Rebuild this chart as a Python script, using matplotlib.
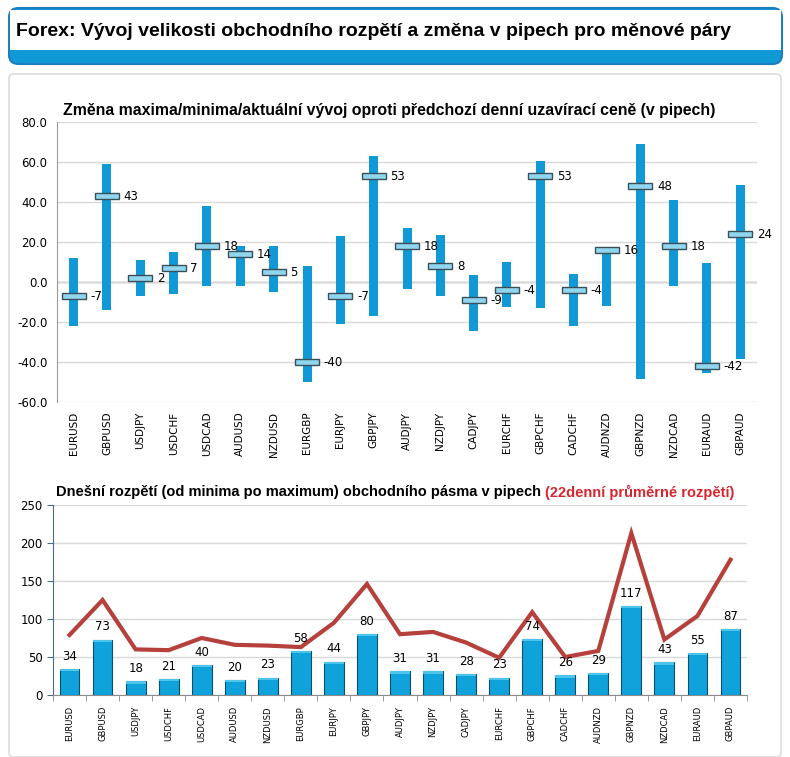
import matplotlib
matplotlib.use("Agg")
from matplotlib import pyplot as plt
from matplotlib.patches import FancyBboxPatch, Rectangle
import numpy as np

pairs = ["EURUSD", "GBPUSD", "USDJPY", "USDCHF", "USDCAD", "AUDUSD", "NZDUSD",
         "EURGBP", "EURJPY", "GBPJPY", "AUDJPY", "NZDJPY", "CADJPY", "EURCHF",
         "GBPCHF", "CADCHF", "AUDNZD", "GBPNZD", "NZDCAD", "EURAUD", "GBPAUD"]

# zmena oproti predchozi uzaviraci cene (pipy)
highs = [12, 59, 11, 15, 38, 18, 18, 8, 23, 63, 27, 23.5, 3.5, 10, 60.5, 4, 16, 69, 41, 9.5, 48.5]
lows = [-22, -14, -7, -6, -2, -2, -5, -50, -21, -17, -3.5, -7, -24.5, -12.5, -13, -22, -12, -48.5, -2, -45.5, -38.5]
current = [-7, 43, 2, 7, 18, 14, 5, -40, -7, 53, 18, 8, -9, -4, 53, -4, 16, 48, 18, -42, 24]

# dnesni rozpeti a 22denni prumer
ranges = [34, 73, 18, 21, 40, 20, 23, 58, 44, 80, 31, 31, 28, 23, 74, 26, 29, 117, 43, 55, 87]
avg22 = [79, 125, 60, 59, 75, 66, 65, 63, 95, 146, 80, 83, 69, 49, 109, 50, 58, 213, 73, 104, 178]

BLUE = "#1199d6"
W, H = 790, 757

fig = plt.figure(figsize=(7.9, 7.57), dpi=100)
fig.patch.set_facecolor("white")


def fx(px):
    return px / W


def fy(py):
    return 1 - py / H


# hlavicka a panel
panel = FancyBboxPatch((fx(9), fy(757)), fx(772), fy(74) - fy(757),
                       boxstyle="round,pad=0,rounding_size=0.006",
                       transform=fig.transFigure, facecolor="white",
                       edgecolor="#dcdcdc", lw=1.2, zorder=-5)
fig.patches.append(panel)
hdr = FancyBboxPatch((fx(9), fy(64)), fx(773), fy(8) - fy(64),
                     boxstyle="round,pad=0,rounding_size=0.012",
                     transform=fig.transFigure, facecolor=BLUE,
                     edgecolor="#1b7fc0", lw=1.5, zorder=-5)
fig.patches.append(hdr)
fig.patches.append(Rectangle((fx(10), fy(50)), fx(771), fy(10) - fy(50),
                             transform=fig.transFigure, facecolor="white",
                             edgecolor="none", zorder=-4))
fig.text(fx(16), fy(31), "Forex: Vývoj velikosti obchodního rozpětí a změna v pipech pro měnové páry",
         family="Liberation Sans", weight="bold",
         fontsize=14, va="center", ha="left")

x = np.arange(len(pairs))

# horni graf
ax1 = fig.add_axes([fx(57), fy(402), fx(700), fy(122) - fy(402)])
ax1.patch.set_alpha(0)
ax1.bar(x, np.array(highs) - np.array(lows), bottom=lows, width=0.27,
        color=BLUE, zorder=3)
ax1.bar(x, 2.6, bottom=np.array(current) - 1.3, width=0.72,
        color="#8fd6ee", edgecolor="#3a4f58", lw=1.0, zorder=4)
for xi, c in zip(x, current):
    ax1.text(xi + 0.5, c, f"{c}", fontsize=8.5, va="center", ha="left", zorder=5)
ax1.set_xlim(-0.5, len(pairs) - 0.5)
ax1.set_ylim(-60, 80)
ax1.set_yticks(np.arange(-60, 81, 20))
ax1.set_yticklabels([f"{v:.1f}" for v in np.arange(-60, 81, 20)], fontsize=8.5)
ax1.set_xticks(x)
ax1.set_xticklabels(pairs, rotation=90, fontsize=7.5)
ax1.tick_params(length=0, pad=7)
ax1.grid(axis="y", color="#d9d9d9", lw=1, zorder=0)
ax1.axhline(0, color="#8c8c8c", lw=1, zorder=1)
for s in ["top", "right", "bottom"]:
    ax1.spines[s].set_visible(False)
ax1.spines["left"].set_color("#9a9a9a")
fig.text(fx(389), fy(110), "Změna maxima/minima/aktuální vývoj oproti předchozí denní uzavírací ceně (v pipech)",
         family="Liberation Sans", weight="bold", fontsize=11.4, ha="center", va="center")

# dolni graf
ax2 = fig.add_axes([fx(53), fy(695), fx(694), fy(505) - fy(695)])
ax2.patch.set_alpha(0)
ax2.bar(x, ranges, width=0.6, color="#10a2da", edgecolor="#0a4f6c", lw=0.8, zorder=3)
ax2.bar(x, 3, bottom=np.array(ranges) - 3, width=0.6, color="#4cc4ec",
        edgecolor="none", zorder=3)
ax2.plot(x, avg22, color="#b5403c", lw=3, zorder=4, solid_joinstyle="miter")
for xi, r in zip(x, ranges):
    ax2.text(xi, r + 8, f"{r}", fontsize=8.5, ha="center", va="bottom", zorder=5)
ax2.set_xlim(-0.5, len(pairs) - 0.5)
ax2.set_ylim(0, 250)
ax2.set_yticks(np.arange(0, 251, 50))
ax2.tick_params(axis="y", labelsize=8.5, length=4, color="#4f6b8a")
ax2.set_xticks(x)
ax2.set_xticklabels(pairs, rotation=90, fontsize=6)
ax2.tick_params(axis="x", length=0, pad=8)
ax2.set_xticks(np.arange(-0.5, len(pairs), 1), minor=True)
ax2.tick_params(axis="x", which="minor", length=4, color="#8c8c8c")
ax2.grid(axis="y", color="#d9d9d9", lw=1, zorder=0)
for s in ["top", "right"]:
    ax2.spines[s].set_visible(False)
ax2.spines["left"].set_color("#4f6b8a")
ax2.spines["bottom"].set_color("#8c8c8c")
t1 = fig.text(fx(56), fy(492), "Dnešní rozpětí (od minima po maximum) obchodního pásma v pipech ",
              family="Liberation Sans", weight="bold", fontsize=10.5, ha="left", va="center")
ax2.annotate("(22denní průměrné rozpětí)", xy=(1, 0.5), xycoords=t1, va="center", ha="left",
             family="Liberation Sans", weight="bold", fontsize=10.5, color="#d8262e",
             annotation_clip=False)

fig.savefig("out.png", dpi=100, facecolor="white")
